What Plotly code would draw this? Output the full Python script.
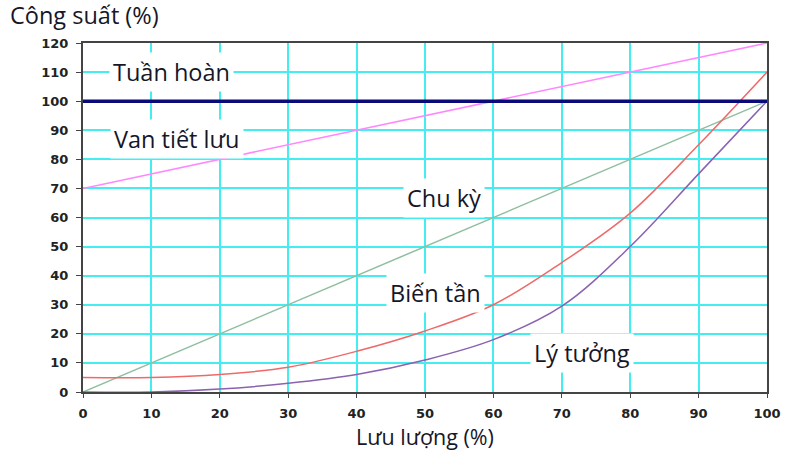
import plotly.graph_objects as go

flow = [0, 10, 20, 30, 40, 50, 60, 70, 80, 90, 100]
tuan_hoan = [100, 100, 100, 100, 100, 100, 100, 100, 100, 100, 100]
van_tiet_luu = [70, 75, 80, 85, 90, 95, 100, 105, 110, 115, 120]
chu_ky = [0, 10, 20, 30, 40, 50, 60, 70, 80, 90, 100]
bien_tan = [5, 5, 6, 8.5, 14, 21, 30, 44.5, 61.5, 85, 110]
ly_tuong = [0, 0, 1, 3, 6, 11, 18, 29.5, 50, 75, 100]

labels = ["Tuần hoàn", "Van tiết lưu", "Chu kỳ", "Biến tần", "Lý tưởng"]
label_x = [13, 13.7, 52.8, 51.5, 73]
label_y = [110, 87, 66.7, 34, 13.5]

FONT = "Open Sans"
FS = 23.5
TXT = "#161628"

fig = go.Figure()
fig.add_trace(go.Scatter(x=flow, y=van_tiet_luu, mode="lines",
                         line=dict(color="#ff88ff", width=1.5), name=labels[1]))
fig.add_trace(go.Scatter(x=flow, y=chu_ky, mode="lines",
                         line=dict(color="#8fbfa0", width=1.5), name=labels[2]))
fig.add_trace(go.Scatter(x=flow, y=bien_tan, mode="lines", line_shape="spline",
                         line=dict(color="#ee6a6a", width=1.5), name=labels[3]))
fig.add_trace(go.Scatter(x=flow, y=ly_tuong, mode="lines", line_shape="spline",
                         line=dict(color="#8a62b0", width=1.5), name=labels[4]))
fig.add_trace(go.Scatter(x=flow, y=tuan_hoan, mode="lines",
                         line=dict(color="#0a0a78", width=3.5), name=labels[0]))

for t, x, y in zip(labels, label_x, label_y):
    fig.add_annotation(x=x, y=y, text=t, showarrow=False, bgcolor="white",
                       borderpad=3, font=dict(family=FONT, size=FS, color=TXT))

W, H = 785, 450
L, T = 83, 43
PW, PH = 684, 349
fig.update_layout(
    width=W, height=H,
    margin=dict(l=L, r=W - L - PW, t=T, b=H - T - PH),
    paper_bgcolor="white", plot_bgcolor="white",
    showlegend=False,
)

fig.add_annotation(text="Công suất (%)", xref="paper", yref="paper",
                   x=(8 - L) / PW, y=1 + (T - 15) / PH,
                   xanchor="left", yanchor="middle", showarrow=False,
                   font=dict(family=FONT, size=FS, color=TXT))
fig.add_annotation(text="Lưu lượng (%)", xref="paper", yref="paper",
                   x=(425 - L) / PW, y=-(436 - T - PH) / PH,
                   xanchor="center", yanchor="middle", showarrow=False, borderpad=0,
                   font=dict(family=FONT, size=21.5, color=TXT))

fig.update_xaxes(range=[0, 100], dtick=10, showgrid=True, gridcolor="#44eef0", gridwidth=1.5,
                 showline=True, linecolor="#444444", linewidth=2, mirror=True,
                 ticks="outside", ticklen=4, tickcolor="#444444", ticklabelstandoff=4,
                 tickfont=dict(family="DejaVu Sans", size=13, color="#222222", weight="bold"),
                 automargin=False, zeroline=False)
fig.update_yaxes(range=[0, 120], dtick=10, showgrid=True, gridcolor="#44eef0", gridwidth=1.5,
                 showline=True, linecolor="#444444", linewidth=2, mirror=True,
                 ticks="outside", ticklen=5, tickcolor="#444444", ticklabelstandoff=5,
                 tickfont=dict(family="DejaVu Sans", size=13, color="#222222", weight="bold"),
                 automargin=False, zeroline=False)

fig.write_html("out.html", config={"displayModeBar": False},
               post_script="document.body.style.margin='0';")
